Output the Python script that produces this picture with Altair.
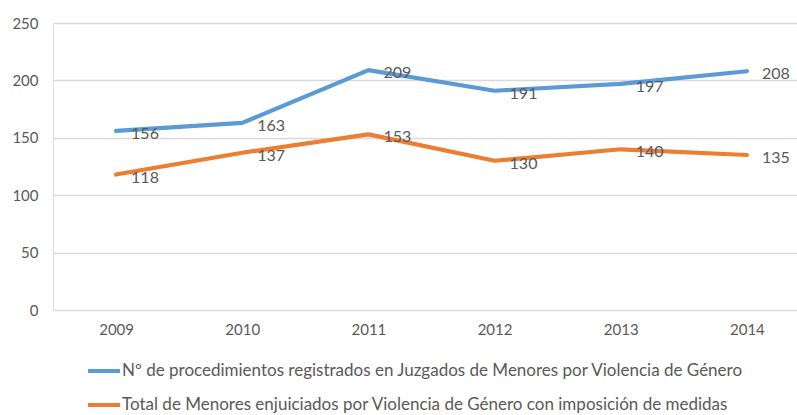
import altair as alt
import pandas as pd

years = [2009, 2010, 2011, 2012, 2013, 2014]
serie_a = "Nº de procedimientos registrados en Juzgados de Menores por Violencia de Género"
serie_b = "Total de Menores enjuiciados por Violencia de Género con imposición de medidas"
values_a = [156, 163, 209, 191, 197, 208]
values_b = [118, 137, 153, 130, 140, 135]
series = [serie_a, serie_b]
colors = ["#5B9BD5", "#ED7D31"]

rows = []
for s, vals in zip(series, [values_a, values_b]):
    for y, v in zip(years, vals):
        rows.append({"year": y, "value": v, "serie": s})
df = pd.DataFrame(rows)

FONT = "Lato"
GRAY = "#595959"

x = alt.X("year:Q",
          scale=alt.Scale(domain=[2008.5, 2014.397], nice=False, zero=False),
          axis=alt.Axis(values=years, format="d", grid=False, domain=False, ticks=False,
                        labelFont=FONT, labelFontSize=15, labelColor=GRAY, labelPadding=12,
                        title=None))
y = alt.Y("value:Q",
          scale=alt.Scale(domain=[0, 250], nice=False),
          axis=alt.Axis(values=[0, 50, 100, 150, 200, 250], grid=True, gridColor="#d9d9d9",
                        gridWidth=1.3, domain=False, ticks=False, labelFont=FONT,
                        labelFontSize=15, labelColor=GRAY, labelPadding=15, title=None))

color = alt.Color("serie:N", sort=series,
                  scale=alt.Scale(domain=series, range=colors),
                  legend=alt.Legend(orient="none", legendX=33, legendY=330, direction="vertical",
                                    title=None, symbolType="stroke", symbolSize=1024,
                                    symbolStrokeWidth=4, labelFont=FONT, labelFontSize=17,
                                    labelColor=GRAY, labelLimit=0, rowPadding=8,
                                    labelOffset=0))

lines = alt.Chart(df).mark_line(strokeWidth=4.2, strokeCap="round", strokeJoin="round").encode(
    x=x, y=y, color=color, detail="serie:N")

labels = alt.Chart(df).mark_text(align="left", baseline="middle", dx=15, dy=3,
                                 font=FONT, fontSize=16, color=GRAY).encode(
    x="year:Q", y="value:Q", text="value:Q")

chart = alt.layer(lines, labels).properties(
    width=744, height=287,
    autosize=alt.AutoSizeParams(type="none"),
    padding={"left": 53, "top": 23, "right": 0, "bottom": 105},
).configure_view(stroke=None).configure(background="white")

chart.save("out.html", embed_options={"renderer": "svg", "actions": False})
